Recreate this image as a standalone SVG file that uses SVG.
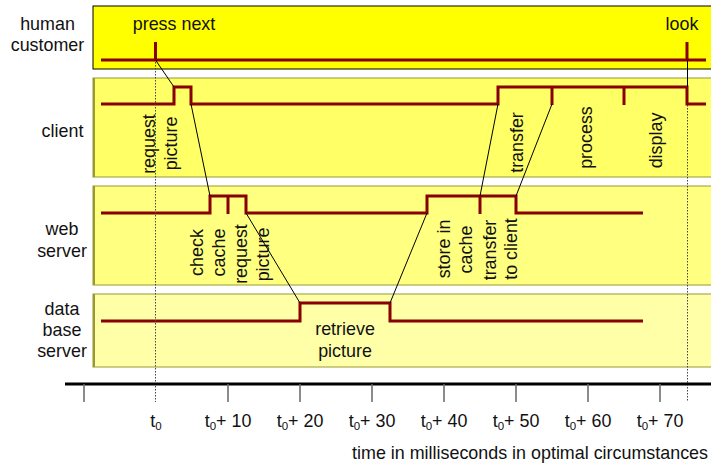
<svg xmlns="http://www.w3.org/2000/svg" width="711" height="470" viewBox="0 0 711 470">
<style>
text{font-family:"Liberation Sans",Arial,sans-serif;font-size:17.9px;fill:#111}
.mid{text-anchor:middle}
.sig{fill:none;stroke:#880000;stroke-width:3}
.lane{stroke:#999933;stroke-width:1}
.conn{fill:none;stroke:#000;stroke-width:1}
.dot{fill:none;stroke:#444;stroke-width:1;stroke-dasharray:1.5 1.5}
.tick{stroke:#666;stroke-width:1.5}
</style>
<rect x="0" y="0" width="711" height="470" fill="#fff"/>
<g id="lane-human">
<rect x="93" y="6" width="630" height="63" fill="#ffff00" stroke="#000" stroke-width="1"/>
<text class="mid" x="47.5" y="30">human</text>
<text class="mid" x="47.5" y="51">customer</text>
<polyline class="sig" points="101,60 706,60"/>
<line class="sig" x1="155.5" y1="42" x2="155.5" y2="60"/>
<line class="sig" x1="687" y1="42" x2="687" y2="60"/>
<text class="mid" x="174" y="30">press next</text>
<text class="mid" x="682" y="30">look</text>
</g>
<g id="lane-client">
<rect class="lane" x="93" y="78" width="630" height="99" fill="#ffff66"/>
<line x1="94" y1="78" x2="94" y2="177" stroke="#999933" stroke-width="2"/>
<text class="mid" x="62.5" y="137">client</text>
<polyline class="sig" points="101,104 174,104 174,87 191,87 191,104 498,104 498,87 687,87 687,104 706,104"/>
<line class="sig" x1="552" y1="87" x2="552" y2="105"/>
<line class="sig" x1="624" y1="87" x2="624" y2="105"/>
<text class="mid" transform="translate(155,144) rotate(-90)">request</text>
<text class="mid" transform="translate(177,143.5) rotate(-90)">picture</text>
<text class="mid" transform="translate(523,142.5) rotate(-90)">transfer</text>
<text class="mid" transform="translate(592,137.5) rotate(-90)">process</text>
<text class="mid" transform="translate(662,140.5) rotate(-90)">display</text>
</g>
<g id="lane-webserver">
<rect class="lane" x="93" y="186" width="630" height="99" fill="#ffff80"/>
<line x1="94" y1="186" x2="94" y2="285" stroke="#999933" stroke-width="2"/>
<text class="mid" x="62" y="235">web</text>
<text class="mid" x="62" y="257">server</text>
<polyline class="sig" points="101,213 210,213 210,196 246,196 246,213 427,213 427,196 516,196 516,213 643,213"/>
<line class="sig" x1="228" y1="196" x2="228" y2="214"/>
<line class="sig" x1="480" y1="196" x2="480" y2="214"/>
<text class="mid" transform="translate(203,252.5) rotate(-90)">check</text>
<text class="mid" transform="translate(225,252.5) rotate(-90)">cache</text>
<text class="mid" transform="translate(247,254) rotate(-90)">request</text>
<text class="mid" transform="translate(269,254.5) rotate(-90)">picture</text>
<text class="mid" transform="translate(450,249) rotate(-90)">store in</text>
<text class="mid" transform="translate(472,249.5) rotate(-90)">cache</text>
<text class="mid" transform="translate(496,250) rotate(-90)">transfer</text>
<text class="mid" transform="translate(517,249) rotate(-90)">to client</text>
</g>
<g id="lane-database">
<rect class="lane" x="93" y="294" width="630" height="73" fill="#ffffa8"/>
<line x1="94" y1="294" x2="94" y2="367" stroke="#999933" stroke-width="2"/>
<text class="mid" x="62" y="315">data</text>
<text class="mid" x="62" y="336">base</text>
<text class="mid" x="62" y="357">server</text>
<polyline class="sig" points="101,321 300,321 300,303 390,303 390,321 643,321"/>
<text class="mid" x="345" y="335">retrieve</text>
<text class="mid" x="345" y="357">picture</text>
</g>
<g id="connectors">
<line class="dot" x1="155.5" y1="62" x2="155.5" y2="402"/>
<line class="dot" x1="687.5" y1="105" x2="687.5" y2="402"/>
<line class="conn" x1="155.5" y1="60" x2="174" y2="87"/>
<line class="conn" x1="191" y1="104" x2="210" y2="196"/>
<line class="conn" x1="246" y1="213" x2="300" y2="303"/>
<line class="conn" x1="390" y1="303" x2="427" y2="213"/>
<line class="conn" x1="480" y1="196" x2="498" y2="104"/>
<line class="conn" x1="516" y1="196" x2="552" y2="104"/>
<line class="conn" x1="687.5" y1="60" x2="687.5" y2="87"/>
</g>
<g id="axis">
<line x1="65" y1="384" x2="711" y2="384" stroke="#000" stroke-width="3"/>
<line class="tick" x1="84" y1="384" x2="84" y2="402"/>
<line class="tick" x1="228" y1="384" x2="228" y2="402"/>
<line class="tick" x1="300" y1="384" x2="300" y2="402"/>
<line class="tick" x1="372" y1="384" x2="372" y2="402"/>
<line class="tick" x1="444" y1="384" x2="444" y2="402"/>
<line class="tick" x1="516" y1="384" x2="516" y2="402"/>
<line class="tick" x1="588" y1="384" x2="588" y2="402"/>
<line class="tick" x1="660" y1="384" x2="660" y2="402"/>
<text class="mid" x="156" y="427">t<tspan font-size="11.5" dy="3">0</tspan></text>
<text class="mid" x="228" y="427">t<tspan font-size="11.5" dy="3">0</tspan><tspan dy="-3">+ 10</tspan></text>
<text class="mid" x="300" y="427">t<tspan font-size="11.5" dy="3">0</tspan><tspan dy="-3">+ 20</tspan></text>
<text class="mid" x="372" y="427">t<tspan font-size="11.5" dy="3">0</tspan><tspan dy="-3">+ 30</tspan></text>
<text class="mid" x="444" y="427">t<tspan font-size="11.5" dy="3">0</tspan><tspan dy="-3">+ 40</tspan></text>
<text class="mid" x="516" y="427">t<tspan font-size="11.5" dy="3">0</tspan><tspan dy="-3">+ 50</tspan></text>
<text class="mid" x="588" y="427">t<tspan font-size="11.5" dy="3">0</tspan><tspan dy="-3">+ 60</tspan></text>
<text class="mid" x="660" y="427">t<tspan font-size="11.5" dy="3">0</tspan><tspan dy="-3">+ 70</tspan></text>
<text x="708" y="459" text-anchor="end">time in milliseconds in optimal circumstances</text>
</g>
</svg>
